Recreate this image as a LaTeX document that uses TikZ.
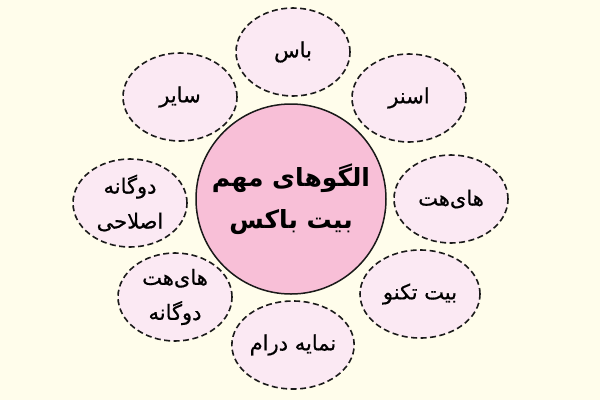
\documentclass[tikz,border=0pt]{standalone}
\usepackage{fontspec}
\usetikzlibrary{shapes.geometric}
\TeXXeTstate=1
\newfontfamily\arabicfont[Script=Arabic,FakeBold=0.6]{DejaVu Sans}
\newfontfamily\arabicbold[Script=Arabic]{DejaVu Sans Bold}
\definecolor{bgcream}{HTML}{FFFDEB}
\definecolor{satfill}{HTML}{FBE9F3}
\definecolor{hubfill}{HTML}{F8BFD7}
\definecolor{inkline}{HTML}{1A1A1A}
\tikzset{
  sat/.style={ellipse, draw=inkline, fill=satfill, line width=1.6pt,
    dash pattern=on 6pt off 3.5pt, minimum width=114pt, minimum height=88pt,
    inner sep=0pt, align=center, font=\arabicfont\fontsize{21}{35}\selectfont},
  hub/.style={circle, draw=inkline, fill=hubfill, line width=1.5pt,
    minimum size=190pt, inner sep=0pt, align=center,
    font=\arabicbold\fontsize{25}{42}\selectfont}
}
\newcommand{\rtl}[1]{\beginR #1\endR}
\begin{document}
\begin{tikzpicture}[x=1pt,y=-1pt]
\fill[bgcream] (0,0) rectangle (600,400);
\useasboundingbox (0,0) rectangle (600,400);
\node[hub] (hub) at (291,199) {\rtl{الگوهای مهم}\\\rtl{بیت باکس}};
\node[sat] (bass) at (293,52) {\rtl{باس}};
\node[sat] (snare) at (409,98) {\rtl{اسنر}};
\node[sat] (hihat) at (451,199) {\rtl{های‌هت}};
\node[sat, minimum width=120pt] (techno) at (420,294) {\rtl{بیت تکنو}};
\node[sat, minimum width=117pt] (drum) at (293,345) {\rtl{نمایه درام}};
\node[sat] (dhihat) at (175,297) {\rtl{های‌هت}\\\rtl{دوگانه}};
\node[sat] (dcorr) at (130,203) {\rtl{دوگانه}\\\rtl{اصلاحی}};
\node[sat] (other) at (180,97) {\rtl{سایر}};
\end{tikzpicture}
\end{document}
